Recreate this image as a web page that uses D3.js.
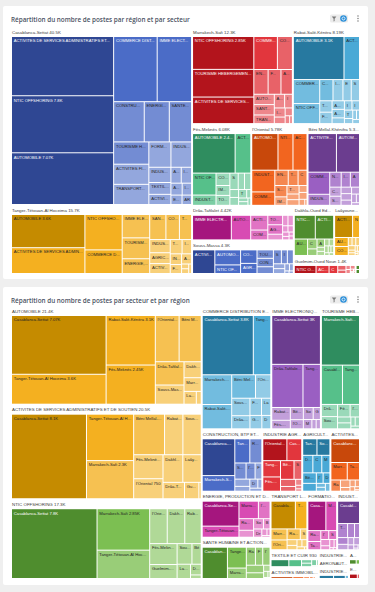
<!DOCTYPE html>
<html lang="fr">
<head>
<meta charset="utf-8">
<script src="https://cdn.jsdelivr.net/npm/d3@7/dist/d3.min.js"></script>
<style>
  html, body { margin:0; padding:0; background:#efefef; width:375px; height:592px; overflow:hidden; }
  svg { display:block; }
  text { font-family: "Liberation Sans", Arial, sans-serif; }
  .title { font-family: "Open Sans", "Noto Sans", sans-serif; font-weight:600; }
</style>
</head>
<body>
<svg id="chart" width="375" height="592"></svg>
<script>
// ---------------- DATA (milliers de postes) ----------------
const regions = ["Casablanca-Settat","Tanger-Tétouan-Al Hoceima","Marrakech-Safi","Rabat-Salé-Kénitra","Fès-Meknès","l'Oriental","Béni Mellal-Khénifra","Drâa-Tafilalet","Souss-Massa","Dakhla-Oued Ed Dahab","Laâyoune-Sakia El Hamra","Guelmim-Oued Noun","Non défini"];

const sectors = ["AUTOMOBILE","ACTIVITES DE SERVICES ADMINISTRATIFS ET DE SOUTIEN","NTIC OFFSHORING","COMMERCE DISTRIBUTION ET AUTRES","IMME ELECTRONIQUE ET ELECTRIQUE","TOURISME HEBERGEMENT ET RESTAURATION","CONSTRUCTION, BTP ET ACTIVITES CONNEXES","INDUSTRIE AGROALIMENTAIRE","AGRICULTURE ET PECHE","ACTIVITES FINANCIERES ET D'ASSURANCE","ENERGIE, PRODUCTION ET DISTRIBUTION","SANTE HUMAINE ET ACTION SOCIALE","TRANSPORT LOGISTIQUE","FORMATION, ENSEIGNEMENT","INDUSTRIE CHIMIQUE ET PARACHIMIQUE","TEXTILE ET CUIR","ACTIVITES IMMOBILIERES","INDUSTRIE PHARMACEUTIQUE","AERONAUTIQUE","INDUSTRIES EXTRACTIVES","ARTISANAT","EAU ET ENVIRONNEMENT"];

// one array per sector, values in the order of `regions`
const automobile      = [7.07, 3.6, 0.3, 3.1, 2.45, 1.4, 1.3, 0.85, 0.7, 0.35, 0.2, 0.08, 0];
const servicesAdmin   = [8.1, 2.8, 2.3, 0.95, 0.9, 0.75, 1.6, 0.45, 0.95, 0.7, 0.65, 0.3, 0.05];
const ntic            = [7.8, 1.95, 2.85, 0.75, 0.75, 0.8, 0.25, 0.15, 0.4, 0.8, 0.25, 0.5, 0.05];
const commerce        = [3.8, 1.3, 1.1, 0.9, 0.25, 0.45, 0.7, 0.3, 0.4, 0.15, 0.2, 0.2, 0];
const imme            = [3.0, 0.95, 0.1, 0.3, 0.2, 0.15, 0.2, 1.7, 0.15, 0.05, 0.05, 0.11, 0];
const tourisme        = [1.05, 0.85, 2.4, 0.1, 0.2, 0.15, 0.1, 0.25, 0.25, 0.05, 0.03, 0.05, 0];
const construction    = [1.65, 0.5, 0.7, 0.4, 0.15, 0.2, 0.15, 0.1, 0.25, 0.1, 0.05, 0.05, 0];
const agroalimentaire = [0.45, 0.4, 0.15, 0.1, 0.35, 0.73, 0.35, 0.03, 0.2, 0.05, 0.02, 0, 0];
const agriculture     = [0.22, 0.33, 0.2, 0.15, 0.05, 0.1, 0.2, 0.25, 0.3, 0.1, 0.05, 0.05, 0];
const financieres     = [0.95, 0.3, 0.4, 0.15, 0.1, 0.05, 0.04, 0.03, 0.05, 0.02, 0.01, 0, 0];
const energie         = [1.35, 0.6, 0.5, 0.25, 0.15, 0.3, 0.1, 0.1, 0.15, 0.03, 0.05, 0.02, 0];
const sante           = [1.2, 0.6, 0.3, 0.25, 0.2, 0.2, 0.15, 0.06, 0.2, 0.04, 0.02, 0.01, 0];
const transport       = [0.95, 0.45, 0.25, 0.2, 0.05, 0.22, 0.08, 0.06, 0.1, 0.05, 0.03, 0.01, 0];
const formation       = [0.75, 0.15, 0.45, 0.2, 0.05, 0.1, 0.08, 0.05, 0.1, 0.03, 0.01, 0.01, 0];
const chimie          = [0.7, 0.2, 0.14, 0.1, 0.1, 0.08, 0.06, 0.04, 0.06, 0.02, 0.01, 0.01, 0];
const textile         = [0.35, 0.25, 0, 0.1, 0.1, 0.08, 0.03, 0, 0.02, 0, 0, 0, 0];
const immobilier      = [0.3, 0.15, 0.08, 0.05, 0.03, 0.02, 0, 0, 0.02, 0, 0, 0, 0];
const pharma          = [0.15, 0.05, 0.03, 0.04, 0, 0, 0, 0, 0, 0, 0, 0, 0];
const aeronautique    = [0.18, 0.05, 0, 0.04, 0, 0, 0, 0, 0, 0, 0, 0, 0];
const extractives     = [0.22, 0.18, 0.05, 0, 0, 0, 0, 0, 0, 0, 0, 0, 0];
const artisanat       = [0.12, 0, 0, 0.06, 0, 0, 0, 0, 0, 0, 0, 0, 0];
const eau             = [0.14, 0.04, 0, 0, 0, 0, 0, 0, 0, 0, 0, 0, 0];

const sectorValues = [automobile, servicesAdmin, ntic, commerce, imme, tourisme, construction,
  agroalimentaire, agriculture, financieres, energie, sante, transport, formation, chimie,
  textile, immobilier, pharma, aeronautique, extractives, artisanat, eau];

const titles = ["Répartition du nombre de postes par région et par secteur",
                "Répartition du nombre de postes par secteur et par région"];

// ---------------- STYLE ----------------
const regionColors = ["blue","gold","red","teal","seagreen","orange","purple","magenta","blue","lime","gold","red","lime"];
const sectorColors = ["gold","gold","lime","teal","purple","seagreen","blue","red","teal","orange","magenta","lime","gold","magenta","purple","seagreen","orange","magenta","gold","teal","lime","red"];
const palette = {
  blue:     {dark:"#2f4793", base:"#4b6cc7"},
  gold:     {dark:"#c58b00", base:"#f4b020"},
  red:      {dark:"#b3141c", base:"#e2363d"},
  teal:     {dark:"#2779a0", base:"#4aa9d6"},
  seagreen: {dark:"#2f8d5f", base:"#56c08a"},
  orange:   {dark:"#c8480b", base:"#f2651f"},
  purple:   {dark:"#6b3d8f", base:"#9a5fc2"},
  magenta:  {dark:"#a5167e", base:"#d84bb3"},
  lime:     {dark:"#4f8d2e", base:"#7cbf52"}
};
function shade(name, t) {
  const p = palette[name];
  if (t >= 0.8) return p.dark;
  if (t >= 0.3) return p.base;
  if (t >= 0.12) return d3.interpolateRgb(p.base, "#ffffff")(0.22);
  return d3.interpolateRgb(p.base, "#ffffff")(0.4);
}
function textColor(fill) {
  const c = d3.rgb(fill);
  return (0.299*c.r + 0.587*c.g + 0.114*c.b) < 115 ? "#ffffff" : "#252423";
}
const fmt = v => d3.format(".3~s")(v * 1000).replace("k", "K");

const svg = d3.select("#chart");

function fit(sel, str, maxW) {
  const node = sel.node();
  sel.text(str);
  if (node.getComputedTextLength() <= maxW) return;
  let lo = 1, hi = str.length - 1, best = 0;
  while (lo <= hi) {
    const m = (lo + hi) >> 1;
    sel.text(str.slice(0, m).trimEnd() + "...");
    if (node.getComputedTextLength() <= maxW) { best = m; lo = m + 1; } else hi = m - 1;
  }
  if (best >= 1) { sel.text(str.slice(0, best).trimEnd() + "..."); return; }
  lo = 1; hi = str.length - 1; best = 0;
  while (lo <= hi) {
    const m = (lo + hi) >> 1;
    sel.text(str.slice(0, m));
    if (node.getComputedTextLength() <= maxW) { best = m; lo = m + 1; } else hi = m - 1;
  }
  sel.text(best ? str.slice(0, best) : "");
}

function icons(g, cy) {
  g.append("rect").attr("x", 330).attr("y", cy + 8.5).attr("width", 18).attr("height", 8).attr("rx", 1.5).attr("fill", "#ececec");
  g.append("path").attr("d", `M331.8,${cy+10.6}h4.6l-1.8,2.2v2.2l-1,0.6v-2.8z`).attr("fill", "#7a7a7a");
  g.append("circle").attr("cx", 343.5).attr("cy", cy + 12.5).attr("r", 3.3).attr("fill", "#2b8fd9");
  g.append("circle").attr("cx", 343.5).attr("cy", cy + 12.5).attr("r", 1.5).attr("fill", "none").attr("stroke", "#fff").attr("stroke-width", 0.8);
  [0, 1, 2].forEach(k => g.append("circle").attr("cx", 358).attr("cy", cy + 10 + k * 2.5).attr("r", 0.65).attr("fill", "#666"));
}

function drawChart(opt) {
  const g = svg.append("g");
  g.append("rect").attr("x", opt.card[0]).attr("y", opt.card[1]).attr("width", opt.card[2]).attr("height", opt.card[3])
    .attr("rx", 2).attr("fill", "#ffffff");
  g.append("text").attr("class", "title").attr("x", 11).attr("y", opt.card[1] + 16.3)
    .attr("font-size", 6.35).attr("fill", "#4b5263").text(opt.title);
  icons(g, opt.card[1]);

  const totals = opt.groups.map((_, i) => d3.sum(opt.items, (_, j) => opt.value(i, j)));
  const top = d3.hierarchy({children: opt.groups.map((name, i) => ({name, i, value: totals[i]}))})
    .sum(d => d.value || 0);
  d3.treemap().tile(d3.treemapSquarify.ratio(opt.ratio)).size([opt.lw, opt.lh])(top);
  const x = d3.scaleLinear().domain([0, opt.lw]).range(opt.xr);
  const y = d3.scaleLinear().domain([0, opt.lh]).range(opt.yr);
  const band = 9;

  top.children.forEach(node => {
    const gi = node.data.i;
    const gx0 = x(node.x0) + 1, gx1 = x(node.x1) - 1, gy0 = y(node.y0) + 1, gy1 = y(node.y1) - 1;
    const lbl = g.append("text").attr("x", gx0).attr("y", gy0 + 5.6)
      .attr("font-size", 4.4).attr("fill", "#3b3b3b");
    fit(lbl, opt.groups[gi] + " " + fmt(totals[gi]), gx1 - gx0);
    const tw = gx1 - gx0, th = gy1 - gy0 - band;
    if (tw <= 0 || th <= 0) return;
    const kids = d3.hierarchy({children: opt.items.map((name, j) => ({name, value: opt.value(gi, j)})).filter(d => d.value > 0)})
      .sum(d => d.value || 0).sort((a, b) => b.value - a.value);
    d3.treemap().tile(d3.treemapSquarify).size([tw, th]).paddingInner(1)(kids);
    const vmax = d3.max(kids.children, d => d.value);
    const cell = g.append("g").attr("transform", `translate(${gx0},${gy0 + band})`);
    kids.children.forEach(leaf => {
      const fill = shade(opt.colors[gi], leaf.value / vmax);
      const w = leaf.x1 - leaf.x0, h = leaf.y1 - leaf.y0;
      cell.append("rect").attr("x", leaf.x0).attr("y", leaf.y0)
        .attr("width", Math.max(0, w)).attr("height", Math.max(0, h)).attr("fill", fill);
      if (h >= 7 && w >= 4) {
        const t = cell.append("text").attr("x", leaf.x0 + 1.8).attr("y", leaf.y0 + 5.3)
          .attr("font-size", 4.2).attr("fill", textColor(fill));
        fit(t, leaf.data.name + " " + fmt(leaf.value), w - 2.6);
      }
    });
  });
}

drawChart({
  title: titles[0], card: [3, 6, 365, 273],
  groups: regions, items: sectors, value: (i, j) => sectorValues[j][i], colors: regionColors,
  lw: 349, lh: 290, ratio: 1.8, xr: [11, 360], yr: [27, 274]
});
drawChart({
  title: titles[1], card: [3, 287, 365, 298],
  groups: sectors, items: regions, value: (i, j) => sectorValues[i][j], colors: sectorColors,
  lw: 349, lh: 298, ratio: 2, xr: [11, 360], yr: [306, 579]
});
</script>
</body>
</html>
